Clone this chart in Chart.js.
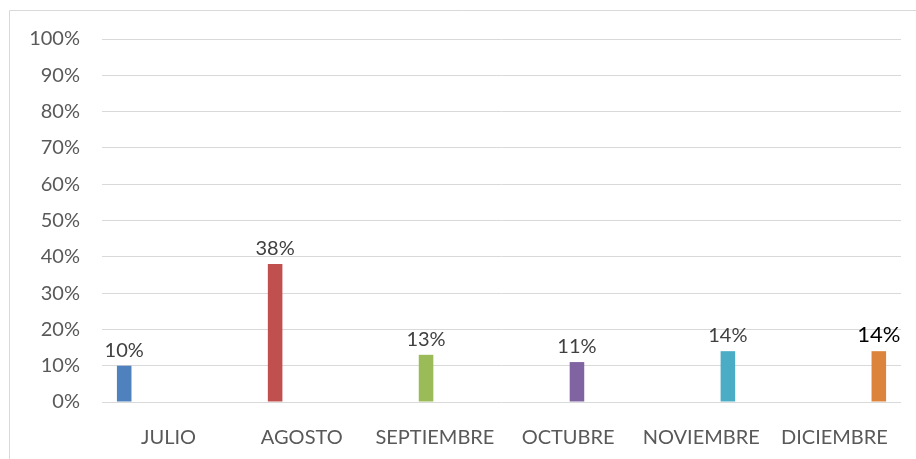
<!DOCTYPE html>
<html>
<head>
<meta charset="utf-8">
<script src="https://cdn.jsdelivr.net/npm/chart.js@4"></script>
<style>
  html, body { margin: 0; padding: 0; background: #fff; }
  #wrap { width: 916px; height: 459px; position: relative; }
</style>
</head>
<body>
<div id="wrap"><canvas id="chart"></canvas></div>
<script>
// months on the x axis and their share
const months = ['JULIO', 'AGOSTO', 'SEPTIEMBRE', 'OCTUBRE', 'NOVIEMBRE', 'DICIEMBRE'];
const shares = [10, 38, 13, 11, 14, 14];
const barColors = ['#4F81BD', '#C0504D', '#9BBB59', '#8064A2', '#4BACC6', '#DD843C'];
const yTicks = [0, 10, 20, 30, 40, 50, 60, 70, 80, 90, 100];

// one series per month, so every bar keeps its own slot in the group
const datasets = months.map((m, i) => ({
    label: m,
    data: months.map((_, j) => (j === i ? shares[i] : null)),
    backgroundColor: barColors[i],
    barPercentage: 0.82,
    categoryPercentage: 0.8
}));

// light frame on top and left side
const framePlugin = {
    id: 'frame',
    beforeDraw(chart) {
        const ctx = chart.ctx;
        ctx.save();
        ctx.strokeStyle = '#d9d9d9';
        ctx.lineWidth = 1;
        ctx.beginPath();
        ctx.moveTo(9.5, chart.height);
        ctx.lineTo(9.5, 10.5);
        ctx.lineTo(chart.width, 10.5);
        ctx.stroke();
        ctx.restore();
    }
};

// value labels above bars
const labelPlugin = {
    id: 'barLabels',
    afterDatasetsDraw(chart) {
        const ctx = chart.ctx;
        ctx.save();
        ctx.textAlign = 'center';
        ctx.textBaseline = 'alphabetic';
        chart.data.datasets.forEach((ds, i) => {
            const el = chart.getDatasetMeta(i).data[i];
            if (!el) return;
            const last = i === months.length - 1;
            ctx.fillStyle = last ? '#000000' : '#404040';
            ctx.font = (last ? '22px' : '20px') + ' Lato';
            ctx.fillText(shares[i] + '%', el.x, el.y - 9);
        });
        ctx.restore();
    }
};

new Chart(document.getElementById('chart'), {
    type: 'bar',
    data: { labels: months, datasets },
    plugins: [framePlugin, labelPlugin],
    options: {
        responsive: true,
        maintainAspectRatio: false,
        animation: false,
        layout: { padding: { top: 39, right: 15, bottom: 0, left: 0 } },
        plugins: { legend: { display: false }, tooltip: { enabled: false } },
        scales: {
            x: {
                grid: { display: false },
                border: { display: false },
                ticks: { color: '#595959', font: { family: 'Lato', size: 20 }, padding: 16, maxRotation: 0 },
                afterFit(scale) { scale.height = 57; }
            },
            y: {
                min: 0,
                max: 100,
                afterBuildTicks(scale) { scale.ticks = yTicks.map(v => ({ value: v })); },
                grid: { color: '#d9d9d9', lineWidth: 1, drawTicks: false },
                border: { display: false },
                ticks: {
                    color: '#595959',
                    font: { family: 'Lato', size: 20 },
                    padding: 22,
                    callback: v => v + '%'
                },
                afterFit(scale) { scale.width = 102; }
            }
        }
    }
});
</script>
</body>
</html>
